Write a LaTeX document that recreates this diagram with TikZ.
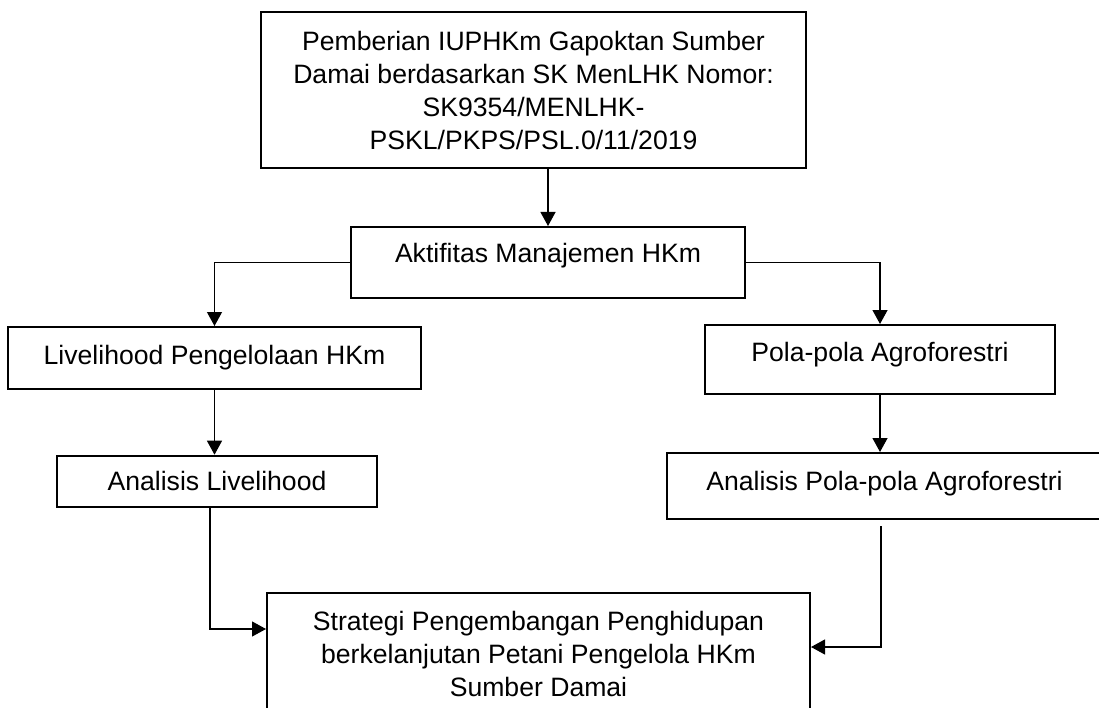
\documentclass[tikz,border=0pt]{standalone}
\usepackage{fontspec}
\setmainfont{Liberation Sans}
\usetikzlibrary{calc,arrows.meta}

\begin{document}
\begin{tikzpicture}[x=1pt,y=-1pt,every node/.style={draw=black, line width=2pt, inner sep=0pt, align=center, font=\fontsize{26.6pt}{33pt}\selectfont}, arr/.style={line width=1.2pt, -{Triangle[length=14pt,width=15pt]}}]
\path[fill=white, use as bounding box] (0,0) rectangle (1099,708);
\clip (0,0) rectangle (1099,708);

\coordinate (A) at (533.5,90);
\coordinate (B) at (548,262.5);
\coordinate (C) at (214.5,358);
\coordinate (D) at (880,359.5);
\coordinate (E) at (217,481.2);
\coordinate (F) at (884.5,486);
\coordinate (G) at (538.5,653.5);

\node[minimum width=545pt, minimum height=156pt] (izin) at (A) {Pemberian IUPHKm Gapoktan Sumber\\Damai berdasarkan SK MenLHK Nomor:\\SK9354/MENLHK-\\PSKL/PKPS/PSL.0/11/2019};
\node[minimum width=394pt, minimum height=71pt, text height=19pt, text depth=18pt] (aktif) at (B) {Aktifitas Manajemen HKm};
\node[minimum width=413pt, minimum height=62pt] (live) at (C) {Livelihood Pengelolaan HKm};
\node[minimum width=350pt, minimum height=69pt, text height=19pt, text depth=14.6pt] (pola) at (D) {Pola-pola Agroforestri};
\node[minimum width=320pt, minimum height=51pt] (anlive) at (E) {Analisis Livelihood};
\node[minimum width=435pt, minimum height=66pt, text height=19pt, text depth=9.6pt] (anpola) at (F) {Analisis Pola-pola Agroforestri};
\node[minimum width=543pt, minimum height=121pt] (strat) at (G) {Strategi Pengembangan Penghidupan\\berkelanjutan Petani Pengelola HKm\\Sumber Damai};

\draw[arr] (izin.south -| aktif.north) -- (aktif.north);
\draw[arr] (aktif.west) -| (live.north);
\draw[arr] (aktif.east) -| (pola.north);
\draw[arr] (live.south) -- (live.south |- anlive.north);
\draw[arr] (pola.south) -- (pola.south |- anpola.north);
\draw[arr] ([xshift=-7pt]anlive.south) |- ([yshift=24.5pt]strat.west);  %ke strategi
\draw[arr] ([xshift=-3.5pt,yshift=-6pt]anpola.south) |- ([yshift=6.5pt]strat.east);
\end{tikzpicture}
\end{document}
